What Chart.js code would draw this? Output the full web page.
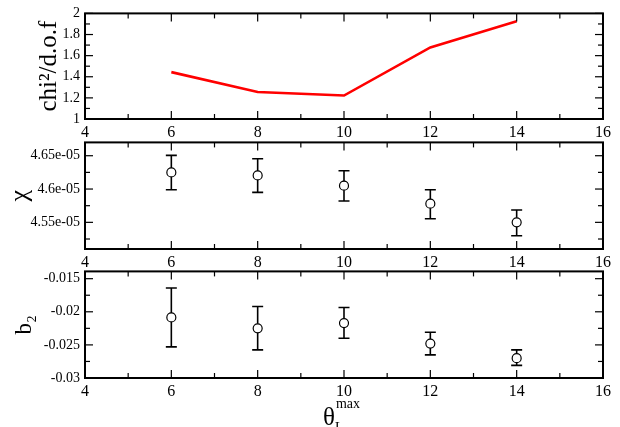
<!DOCTYPE html>
<html><head><meta charset="utf-8">
<script src="https://cdn.jsdelivr.net/npm/chart.js@4"></script>
<style>
html,body{margin:0;padding:0;background:#fff;}
#wrap{position:relative;width:620px;height:427px;overflow:hidden;background:#fff;}
.c{position:absolute;left:0;width:620px;}
</style></head><body>
<div id="wrap">
<div class="c" style="top:0;height:141px"><canvas id="c1"></canvas></div>
<div class="c" style="top:129px;height:142px"><canvas id="c2"></canvas></div>
<div class="c" style="top:258px;height:169px"><canvas id="c3"></canvas></div>
</div>
<script>
// ---- data ----
const thetaMax = [6, 8, 10, 12, 14];
const chi2dof  = [1.444, 1.256, 1.222, 1.678, 1.925];
const chi      = [4.625e-5, 4.6205e-5, 4.605e-5, 4.578e-5, 4.550e-5];
const chiLo    = [4.599e-5, 4.595e-5, 4.582e-5, 4.5555e-5, 4.530e-5];
const chiHi    = [4.6505e-5, 4.6455e-5, 4.6275e-5, 4.599e-5, 4.5685e-5];
const b2       = [-0.02085, -0.0225, -0.0217, -0.0248, -0.0270];
const b2Lo     = [-0.0253, -0.02575, -0.0240, -0.0265, -0.0281];
const b2Hi     = [-0.0164, -0.0192, -0.01935, -0.0231, -0.02575];
// ---- ticks ----
const xTicks   = [4, 6, 8, 10, 12, 14, 16];
const xLabels  = ['4', '6', '8', '10', '12', '14', '16'];
const xMinor   = [5, 7, 9, 11, 13, 15];
const y1Ticks  = [1, 1.2, 1.4, 1.6, 1.8, 2];
const y1Labels = ['1', '1.2', '1.4', '1.6', '1.8', '2'];
const y1Minor  = [1.1, 1.3, 1.5, 1.7, 1.9];
const y2Ticks  = [4.55e-5, 4.6e-5, 4.65e-5];
const y2Labels = ['4.55e-05', '4.6e-05', '4.65e-05'];
const y2Minor  = [4.525e-5, 4.575e-5, 4.625e-5];
const y3Ticks  = [-0.03, -0.025, -0.02, -0.015];
const y3Labels = ['-0.03', '-0.025', '-0.02', '-0.015'];
const y3Minor  = [-0.0275, -0.0225, -0.0175];

const SERIF = 'Liberation Serif';

function labelFor(ticks, labels) {
  return function (v) {
    for (let i = 0; i < ticks.length; i++) if (Math.abs(ticks[i] - v) < Math.abs(ticks[1] - ticks[0]) * 1e-3) return labels[i];
    return '';
  };
}

const framePlugin = {
  id: 'frame',
  afterDraw(chart, args, o) {
    const { ctx, chartArea: a } = chart;
    const x = chart.scales.x, y = chart.scales.y;
    ctx.save();
    ctx.strokeStyle = '#000';
    ctx.lineWidth = 1.2;
    const seg = (x1, y1, x2, y2) => { ctx.beginPath(); ctx.moveTo(x1, y1); ctx.lineTo(x2, y2); ctx.stroke(); };
    const xt = (v, len) => { const p = x.getPixelForValue(v); seg(p, a.bottom, p, a.bottom - len); seg(p, a.top, p, a.top + len); };
    const yt = (v, len) => { const p = y.getPixelForValue(v); seg(a.left, p, a.left + len, p); seg(a.right, p, a.right - len, p); };
    o.xMajor.forEach(v => xt(v, 8));
    o.xMinor.forEach(v => xt(v, 5));
    o.yMajor.forEach(v => yt(v, 8));
    o.yMinor.forEach(v => yt(v, 5));
    ctx.lineWidth = 2;
    ctx.strokeRect(a.left, a.top, a.right - a.left, a.bottom - a.top);
    ctx.restore();
  }
};

const errPlugin = {
  id: 'errbars',
  afterDatasetsDraw(chart, args, o) {
    if (!o.lo) return;
    const { ctx } = chart;
    const x = chart.scales.x, y = chart.scales.y;
    const r = 4.5, cap = 5.5;
    ctx.save();
    ctx.strokeStyle = '#000';
    ctx.lineWidth = 1.6;
    o.xs.forEach((xv, i) => {
      const px = x.getPixelForValue(xv);
      const pc = y.getPixelForValue(o.mid[i]);
      const pl = y.getPixelForValue(o.lo[i]);
      const ph = y.getPixelForValue(o.hi[i]);
      ctx.beginPath();
      ctx.moveTo(px, ph); ctx.lineTo(px, pc - r);
      ctx.moveTo(px, pc + r); ctx.lineTo(px, pl);
      ctx.moveTo(px - cap, ph); ctx.lineTo(px + cap, ph);
      ctx.moveTo(px - cap, pl); ctx.lineTo(px + cap, pl);
      ctx.stroke();
    });
    ctx.restore();
  }
};

const xTitlePlugin = {
  id: 'xtitle',
  afterDraw(chart, args, o) {
    if (!o.show) return;
    const { ctx, chartArea: a } = chart;
    const cx = (a.left + a.right) / 2;
    ctx.save();
    ctx.fillStyle = '#000';
    ctx.textBaseline = 'alphabetic';
    ctx.textAlign = 'left';
    ctx.font = '25px "' + SERIF + '"';
    const base = a.bottom + 47;
    const tw = ctx.measureText('θ').width;
    const x0 = cx - 21;
    ctx.fillText('θ', x0, base);
    ctx.font = '14px "' + SERIF + '"';
    ctx.fillText('L', x0 + tw, base + 7);
    ctx.font = '14px "' + SERIF + '"';
    ctx.fillText('max', x0 + tw + 1, base - 17);
    ctx.restore();
  }
};

function makeChart(id, datasets, yCfg, extra) {
  return new Chart(document.getElementById(id), {
    type: 'scatter',
    data: { datasets },
    plugins: [framePlugin, errPlugin, xTitlePlugin],
    options: {
      responsive: true,
      maintainAspectRatio: false,
      animation: false,
      devicePixelRatio: 1,
      layout: { padding: { left: 0, right: 17, top: 13, bottom: extra.padBottom || 0 } },
      plugins: {
        legend: { display: false },
        tooltip: { enabled: false },
        frame: { xMajor: xTicks, xMinor: xMinor, yMajor: yCfg.ticks, yMinor: yCfg.minor },
        errbars: extra.err || {},
        xtitle: { show: !!extra.xtitle }
      },
      scales: {
        x: {
          type: 'linear', min: 4, max: 16,
          afterBuildTicks: s => { s.ticks = xTicks.map(v => ({ value: v })); },
          afterFit: s => { s.height = 22; },
          grid: { display: false, drawTicks: false },
          border: { display: false },
          ticks: { autoSkip: false, maxRotation: 0, padding: 4, color: '#000',
                   font: { family: SERIF, size: 16 }, callback: labelFor(xTicks, xLabels) }
        },
        y: {
          type: 'linear', min: yCfg.min, max: yCfg.max,
          afterBuildTicks: s => { s.ticks = yCfg.ticks.map(v => ({ value: v })); },
          afterFit: s => { s.width = 85; },
          grid: { display: false, drawTicks: false },
          border: { display: false },
          ticks: { autoSkip: false, padding: 5, color: '#000',
                   font: { family: SERIF, size: yCfg.fontSize }, callback: labelFor(yCfg.ticks, yCfg.labels) },
          title: { display: true, text: yCfg.title, color: '#000',
                   font: { family: SERIF, size: yCfg.titleSize }, padding: { top: yCfg.titlePad, bottom: 0 } }
        }
      }
    }
  });
}

const pts = (ys) => thetaMax.map((x, i) => ({ x, y: ys[i] }));

makeChart('c1', [{
  data: pts(chi2dof), showLine: true, borderColor: '#ff0000', borderWidth: 2.6,
  pointRadius: 0, fill: false, tension: 0
}], { min: 1, max: 2, ticks: y1Ticks, labels: y1Labels, minor: y1Minor, fontSize: 14,
      title: 'chi²/d.o.f', titleSize: 25, titlePad: 34 }, {});

makeChart('c2', [{
  data: pts(chi), showLine: false, pointStyle: 'circle', pointRadius: 4.5,
  pointBorderColor: '#000', pointBackgroundColor: 'rgba(0,0,0,0)', pointBorderWidth: 1.2
}], { min: 4.51e-5, max: 4.67e-5, ticks: y2Ticks, labels: y2Labels, minor: y2Minor, fontSize: 14,
      title: 'χ', titleSize: 26, titlePad: 5 },
  { err: { xs: thetaMax, mid: chi, lo: chiLo, hi: chiHi } });

makeChart('c3', [{
  data: pts(b2), showLine: false, pointStyle: 'circle', pointRadius: 4.5,
  pointBorderColor: '#000', pointBackgroundColor: 'rgba(0,0,0,0)', pointBorderWidth: 1.2
}], { min: -0.03, max: -0.0139, ticks: y3Ticks, labels: y3Labels, minor: y3Minor, fontSize: 14,
      title: 'b₂', titleSize: 23, titlePad: 11 },
  { err: { xs: thetaMax, mid: b2, lo: b2Lo, hi: b2Hi }, xtitle: true, padBottom: 27 });
</script>
</body></html>
